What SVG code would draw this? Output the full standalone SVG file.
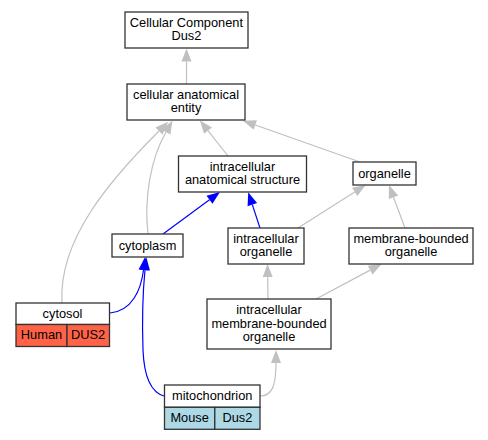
<svg xmlns="http://www.w3.org/2000/svg" width="488" height="440" viewBox="0 0 488 440">
<style>
.box{fill:#fff;stroke:#333;stroke-width:1.3}
.t{font-family:"Liberation Sans",Arial,sans-serif;font-size:12.8px;fill:#000;text-anchor:middle}
.eg{fill:none;stroke:#c0c0c0;stroke-width:1.2}
.eb{fill:none;stroke:#0000ff;stroke-width:1.2}
.hum{fill:#ff6347;stroke:#333;stroke-width:1.3}
.mou{fill:#add8e6;stroke:#333;stroke-width:1.3}
</style>
<defs>
<marker id="ag" markerUnits="userSpaceOnUse" markerWidth="14" markerHeight="12" refX="0" refY="5" orient="auto" overflow="visible"><path d="M0,0 L13,5 L0,10 z" fill="#c0c0c0"/></marker>
<marker id="ab" markerUnits="userSpaceOnUse" markerWidth="14" markerHeight="12" refX="0" refY="5" orient="auto" overflow="visible"><path d="M0,0 L13,5 L0,10 z" fill="#0000ff"/></marker>
</defs>
<rect width="488" height="440" fill="#fff"/>
<g id="edges">
<path class="eg" marker-end="url(#ag)" d="M186.5,84 L186.5,61.5"/>
<path class="eg" marker-end="url(#ag)" d="M228,156 L208,130.7"/>
<path class="eg" marker-end="url(#ag)" d="M360,162 L255.3,125"/>
<path class="eg" marker-end="url(#ag)" d="M62,303 C58,240 110,180 159,131"/>
<path class="eg" marker-end="url(#ag)" d="M148,234 C144,200 150,160 166,132"/>
<path class="eb" marker-end="url(#ab)" d="M163,234 L209.5,199.7"/>
<path class="eb" marker-end="url(#ab)" d="M260,228 L252.3,204.6"/>
<path class="eg" marker-end="url(#ag)" d="M298,228 L354.7,191.9"/>
<path class="eg" marker-end="url(#ag)" d="M405,228 L393.5,197.2"/>
<path class="eg" marker-end="url(#ag)" d="M268,299 L267.7,277"/>
<path class="eg" marker-end="url(#ag)" d="M316,299 L370.2,270.1"/>
<path class="eb" marker-end="url(#ab)" d="M110,313 C132,311 141,290 143.5,270"/>
<path class="eb" marker-end="url(#ab)" d="M164,396 C150,392 144,375 143,350 C142,320 143,290 145,270"/>
<path class="eg" marker-end="url(#ag)" d="M260,396 C272,396 276,386 276,363"/>
</g>
<g id="n_ccd"><rect class="box" x="125" y="12" width="123" height="36"/><text class="t" x="186.4" y="26.5">Cellular Component</text><text class="t" x="186.4" y="40">Dus2</text></g>
<g id="n_entity"><rect class="box" x="127" y="84" width="118" height="36"/><text class="t" x="186" y="98.5">cellular anatomical</text><text class="t" x="186" y="112">entity</text></g>
<g id="n_ias"><rect class="box" x="178.5" y="156" width="128" height="36"/><text class="t" x="242.5" y="170.5">intracellular</text><text class="t" x="242.5" y="184">anatomical structure</text></g>
<g id="n_organelle"><rect class="box" x="353" y="162" width="63" height="23"/><text class="t" x="384.5" y="177.5">organelle</text></g>
<g id="n_cytoplasm"><rect class="box" x="112" y="234" width="71" height="23"/><text class="t" x="147.5" y="249.5">cytoplasm</text></g>
<g id="n_io"><rect class="box" x="228" y="228" width="76" height="36"/><text class="t" x="266" y="242.5">intracellular</text><text class="t" x="266" y="256">organelle</text></g>
<g id="n_mbo"><rect class="box" x="349" y="228" width="124" height="36"/><text class="t" x="411" y="242.5">membrane-bounded</text><text class="t" x="411" y="256">organelle</text></g>
<g id="n_imbo"><rect class="box" x="207" y="299" width="124" height="50"/><text class="t" x="269" y="314">intracellular</text><text class="t" x="269" y="327.5">membrane-bounded</text><text class="t" x="269" y="341">organelle</text></g>
<g id="n_cytosol"><rect class="box" x="16" y="303" width="93.5" height="21.5"/><rect class="hum" x="16" y="324.5" width="51" height="22"/><rect class="hum" x="67" y="324.5" width="42.5" height="22"/><text class="t" x="62.5" y="317.5">cytosol</text><text class="t" x="41.5" y="339">Human</text><text class="t" x="88" y="339">DUS2</text></g>
<g id="n_mito"><rect class="box" x="164.5" y="385" width="95.5" height="22.3"/><rect class="mou" x="164.5" y="407.3" width="50.3" height="22"/><rect class="mou" x="214.8" y="407.3" width="45.2" height="22"/><text class="t" x="212.2" y="400">mitochondrion</text><text class="t" x="189.6" y="421.5">Mouse</text><text class="t" x="237.4" y="421.5">Dus2</text></g>
</svg>
